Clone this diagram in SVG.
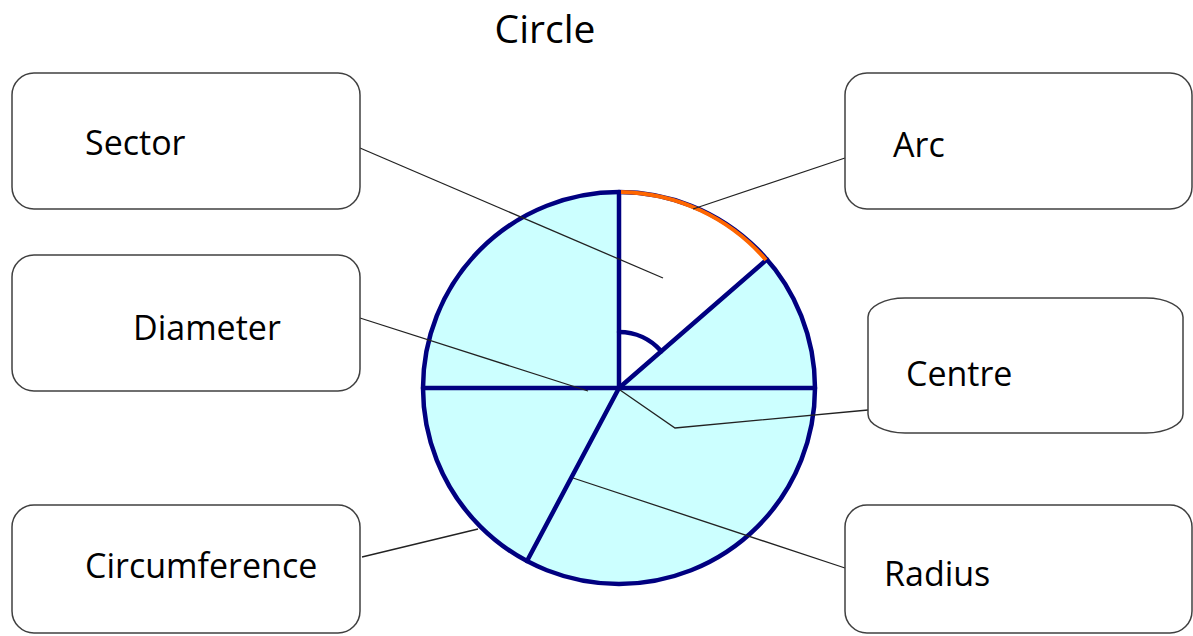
<svg xmlns="http://www.w3.org/2000/svg" width="1193" height="636" viewBox="0 0 1193 636">
<style>
.box{fill:#fff;stroke:#404040;stroke-width:1.5}
.lbl{font-family:"Open Sans","Liberation Sans",sans-serif;font-size:34px;fill:#000}
.con{fill:none;stroke:#222;stroke-width:1.3}
.nv{fill:none;stroke:#000080;stroke-width:4.5;stroke-linecap:round}
</style>
<rect width="1193" height="636" fill="#fff"/>
<text x="545" y="43" text-anchor="middle" class="lbl" style="font-size:39px">Circle</text>
<g id="circle">
<circle cx="619" cy="388" r="196" fill="#CCFFFF"/>
<path d="M619,388 L619,192 A196,196 0 0 1 767,259.4 Z" fill="#fff"/>
<line x1="619" y1="192" x2="619" y2="388" class="nv"/>
<line x1="619" y1="388" x2="767" y2="259.4" class="nv"/>
<line x1="423" y1="388" x2="815" y2="388" class="nv"/>
<line x1="619" y1="388" x2="527" y2="561" class="nv"/>
<path d="M619,332 A56,56 0 0 1 661.3,351.3" class="nv" stroke-width="4"/>
<circle cx="619" cy="388" r="196" class="nv" stroke-width="6"/>
<path d="M621,192 A196,196 0 0 1 766,260" fill="none" stroke="#FF6600" stroke-width="4"/>
</g>
<g id="connectors">
<line x1="360" y1="148" x2="663" y2="278" class="con"/>
<line x1="845" y1="158" x2="693" y2="209" class="con"/>
<line x1="360" y1="318" x2="588" y2="391" class="con"/>
<polyline points="620,390 675,428 868,410" class="con"/>
<line x1="362" y1="557" x2="478" y2="529" class="con"/>
<line x1="573" y1="478" x2="845" y2="568" class="con"/>
</g>
<g id="sector"><rect x="12" y="73" width="348" height="136" rx="22" class="box"/><text x="85" y="155" class="lbl">Sector</text></g>
<g id="diameter"><rect x="12" y="255" width="348" height="136" rx="22" class="box"/><text x="133" y="340" class="lbl">Diameter</text></g>
<g id="circumference"><rect x="12" y="505" width="348" height="128" rx="22" class="box"/><text x="85" y="578" class="lbl">Circumference</text></g>
<g id="arc"><rect x="845" y="73" width="347" height="136" rx="22" class="box"/><text x="893" y="157" class="lbl">Arc</text></g>
<g id="centre"><path d="M905,298 L1146,298 A37,19 0 0 1 1183,317 L1183,414 A37,19 0 0 1 1146,433 L905,433 A37,19 0 0 1 868,414 L868,317 A37,19 0 0 1 905,298 Z" class="box"/><text x="906" y="386" class="lbl">Centre</text></g>
<g id="radius"><rect x="845" y="505" width="347" height="128" rx="22" class="box"/><text x="884" y="586" class="lbl">Radius</text></g>
</svg>
